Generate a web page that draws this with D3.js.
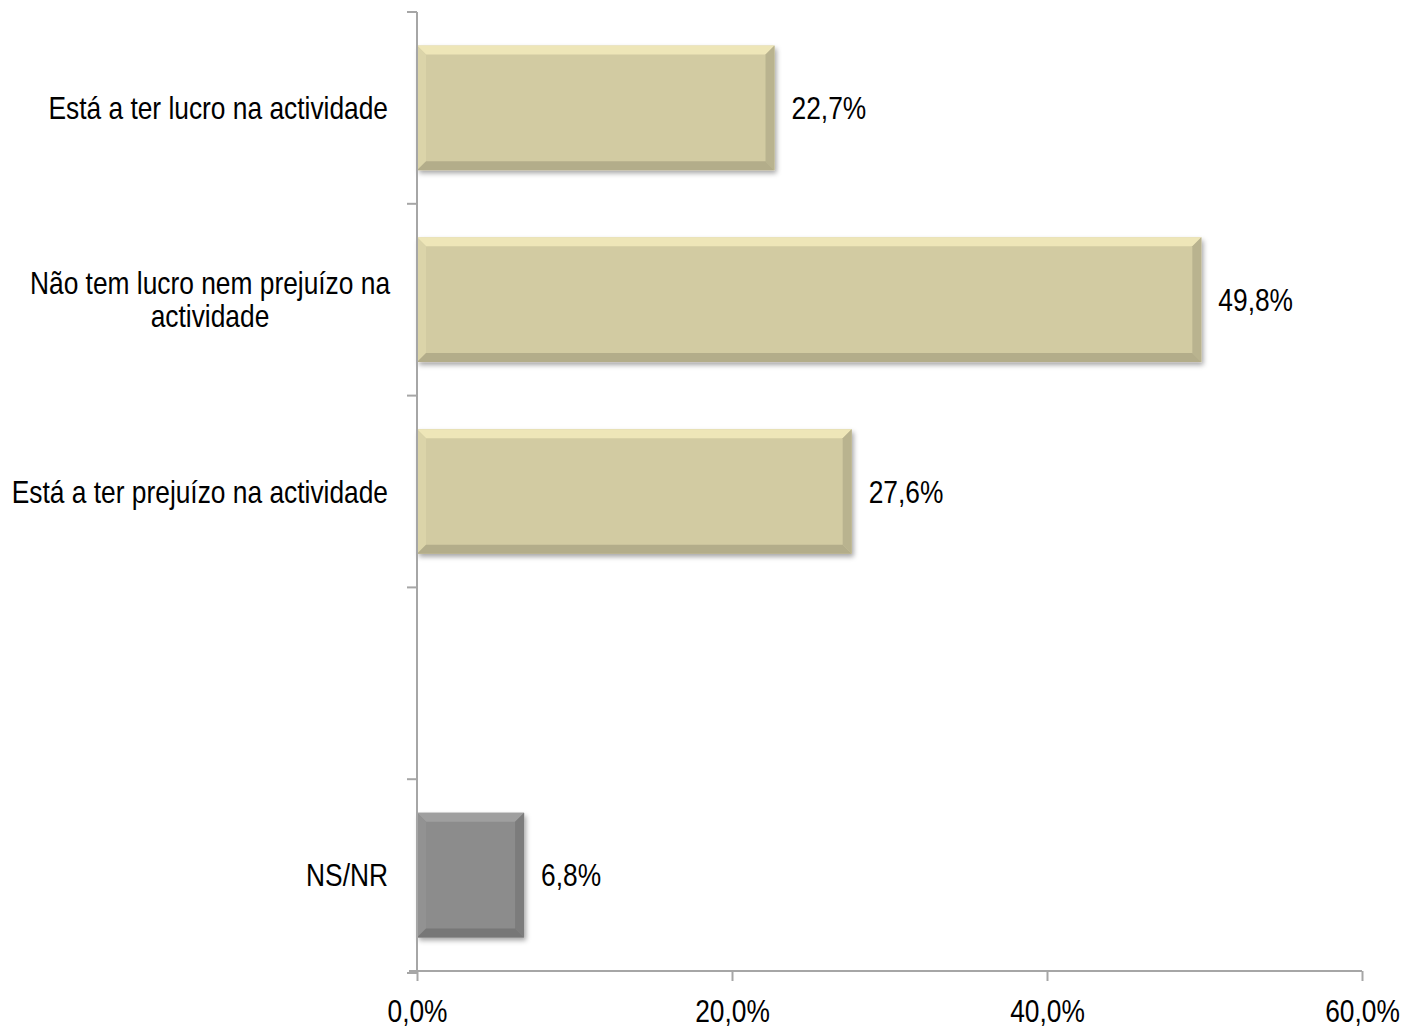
<!DOCTYPE html>
<html>
<head>
<meta charset="utf-8">
<script src="https://cdn.jsdelivr.net/npm/d3@7"></script>
<style>
  body { margin: 0; background: #fff; }
  svg { font-family: "Liberation Sans", Arial, sans-serif; }
</style>
</head>
<body>
<svg id="chart" width="1404" height="1028"></svg>
<script>
// chart data
const categories = ["Está a ter lucro na actividade", "Não tem lucro nem prejuízo na actividade", "Está a ter prejuízo na actividade", "", "NS/NR"];
const labelLines = [["Está a ter lucro na actividade"], ["Não tem lucro nem prejuízo na", "actividade"], ["Está a ter prejuízo na actividade"], [], ["NS/NR"]];
const values = [22.7, 49.8, 27.6, null, 6.8];
const xTicks = [0, 20, 40, 60];

const margin = {top: 12, left: 417, right: 42, bottom: 57};
const width = 1404, height = 1028;
const axisColor = "#a6a6a6";
const fontSize = 31, narrow = 0.85; // fake "Arial Narrow"

const svg = d3.select("#chart");

const x = d3.scaleLinear().domain([0, 60]).range([margin.left, width - margin.right]);
const y = d3.scaleBand().domain(categories.map((c, i) => i)).range([margin.top, height - margin.bottom]).paddingInner(0.35).paddingOuter(0.175);

const fmt = v => d3.format(".1f")(v).replace(".", ",") + "%";

// drop shadow for bars
const defs = svg.append("defs");
const f = defs.append("filter").attr("id", "shadow").attr("x", "-10%").attr("y", "-10%").attr("width", "130%").attr("height", "140%");
f.append("feDropShadow").attr("dx", 2).attr("dy", 3).attr("stdDeviation", 2.5).attr("flood-color", "#000").attr("flood-opacity", 0.35);

const rows = categories.map((c, i) => ({i, c, v: values[i], lines: labelLines[i]})).filter(d => d.v != null);

function base(d) { return d.c === "NS/NR" ? "#8c8c8c" : "#d2cba2"; }

const bar = svg.append("g").selectAll("g").data(rows).join("g")
  .attr("transform", d => `translate(${x(0)},${y(d.i)})`);

bar.each(function(d) {
  const g = d3.select(this);
  const w = x(d.v) - x(0), h = y.bandwidth(), b = 9;
  const c = d3.color(base(d));
  g.append("rect").attr("width", w).attr("height", h).attr("fill", c).attr("filter", "url(#shadow)");
  // bevel faces
  g.append("path").attr("d", `M0,0H${w}L${w - b},${b}H${b}Z`).attr("fill", c.brighter(0.35));
  g.append("path").attr("d", `M0,0L${b},${b}V${h - b}L0,${h}Z`).attr("fill", c.brighter(0.12));
  g.append("path").attr("d", `M${w},0V${h}L${w - b},${h - b}V${b}Z`).attr("fill", c.darker(0.35));
  g.append("path").attr("d", `M0,${h}H${w}L${w - b},${h - b}H${b}Z`).attr("fill", c.darker(0.45));
});

// narrow text helper
function label(sel, px, py) {
  return sel.append("text")
    .attr("transform", d => `translate(${px(d)},${py(d)}) scale(${narrow},1)`)
    .attr("font-size", fontSize)
    .attr("fill", "#000");
}

// value labels
label(svg.append("g").selectAll("g").data(rows).join("g"), d => x(d.v) + 17, d => y(d.i) + y.bandwidth() / 2)
  .attr("dy", "0.36em")
  .text(d => fmt(d.v));

// category labels
const lab = label(svg.append("g").selectAll("g").data(rows).join("g"),
    d => d.lines.length > 1 ? 210 : 388, d => y(d.i) + y.bandwidth() / 2)
  .attr("text-anchor", d => d.lines.length > 1 ? "middle" : "end");
lab.each(function(d) {
  const n = d.lines.length;
  d.lines.forEach((l, k) => {
    d3.select(this).append("tspan").attr("x", 0)
      .attr("dy", k === 0 ? `${0.36 - (n - 1) * 0.53}em` : "1.06em").text(l);
  });
});

// y axis with band boundary ticks
const yAxis = svg.append("g");
const bounds = categories.map((c, i) => y(i) - y.step() * y.paddingInner() / 2);
bounds.push(height - margin.bottom + 2);
yAxis.append("line").attr("x1", x(0)).attr("x2", x(0)).attr("y1", margin.top).attr("y2", height - margin.bottom + 2).attr("stroke", axisColor).attr("stroke-width", 2);
yAxis.selectAll("line.t").data(bounds).join("line").attr("class", "t")
  .attr("x1", x(0) - 10).attr("x2", x(0)).attr("y1", d => d).attr("y2", d => d)
  .attr("stroke", axisColor).attr("stroke-width", 2);

// x axis
const xAxis = svg.append("g").attr("transform", `translate(0,${height - margin.bottom})`)
  .call(d3.axisBottom(x).tickValues(xTicks).tickSize(10).tickFormat(fmt));
xAxis.select(".domain").attr("stroke", axisColor).attr("stroke-width", 2).attr("d", `M${x(0) - 8},0H${x(60)}`);
xAxis.selectAll(".tick line").attr("stroke", axisColor).attr("stroke-width", 2);
xAxis.selectAll(".tick text")
  .attr("y", 0).attr("dy", 0)
  .attr("transform", `translate(0,51) scale(${narrow},1)`)
  .attr("font-size", fontSize).attr("fill", "#000").attr("font-family", null);
</script>
</body>
</html>
